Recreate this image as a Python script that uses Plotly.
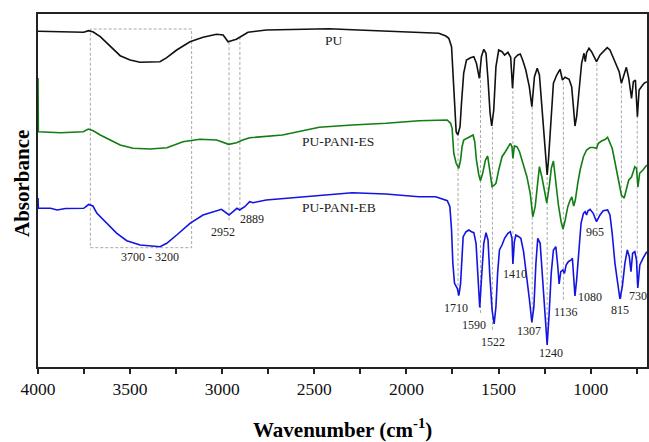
import numpy as np
import plotly.graph_objects as go

# ---------------- data ----------------
pu_wn = [4000, 3878, 3752, 3725, 3700, 3662, 3608, 3554, 3500, 3446, 3338, 3301, 3247, 3175, 3104,
         3031, 2995, 2968, 2950, 2923, 2905, 2860, 2761, 2581, 2418, 2294, 1970, 1824, 1786, 1770,
         1755, 1748, 1737, 1730, 1721, 1709, 1701, 1689, 1674, 1652, 1634, 1620, 1604, 1593, 1580,
         1568, 1557, 1546, 1537, 1526, 1514, 1499, 1481, 1467, 1449, 1434, 1424, 1413, 1395, 1382,
         1369, 1352, 1333, 1319, 1305, 1290, 1278, 1265, 1251, 1242, 1236, 1229, 1221, 1214, 1202,
         1184, 1166, 1153, 1139, 1117, 1103, 1092, 1085, 1076, 1063, 1049, 1036, 1029, 1022, 1009,
         995, 980, 968, 949, 932, 910, 895, 877, 860, 845, 833, 818, 806, 793, 778, 768, 757, 746,
         737, 724, 710, 695]
pu_abs = [3.357, 3.350, 3.347, 3.363, 3.350, 3.303, 3.203, 3.113, 3.070, 3.047, 3.053, 3.093, 3.170,
          3.253, 3.297, 3.327, 3.320, 3.253, 3.263, 3.277, 3.297, 3.347, 3.370, 3.380, 3.383, 3.372,
          3.353, 3.337, 3.310, 3.287, 3.203, 2.970, 2.540, 2.353, 2.320, 2.403, 2.640, 2.940, 3.070,
          3.093, 3.103, 3.037, 2.887, 3.103, 3.177, 3.137, 2.870, 2.540, 2.410, 2.570, 3.003, 3.170,
          3.153, 3.120, 3.147, 3.097, 2.787, 3.087, 3.120, 3.130, 3.070, 2.970, 2.803, 2.603, 2.903,
          2.987, 2.920, 2.603, 2.337, 2.070, 1.920, 2.070, 2.320, 2.503, 2.837, 2.920, 2.977, 2.870,
          2.897, 2.877, 2.803, 2.570, 2.410, 2.503, 2.803, 3.037, 3.137, 3.053, 3.143, 3.187, 3.153,
          3.103, 3.053, 3.120, 3.153, 3.193, 3.170, 3.087, 3.003, 2.953, 2.837, 2.937, 2.997, 2.887,
          2.687, 2.853, 2.870, 2.503, 2.770, 2.803, 2.837, 2.853]

es_wn = [4000, 3998, 3878, 3754, 3727, 3700, 3662, 3608, 3554, 3484, 3392, 3300, 3213, 3121, 3030,
         2965, 2922, 2889, 2851, 2673, 2473, 2294, 2110, 1932, 1779, 1760, 1752, 1743, 1730, 1716,
         1706, 1698, 1689, 1671, 1652, 1638, 1629, 1620, 1607, 1598, 1586, 1571, 1559, 1548, 1535,
         1522, 1514, 1499, 1481, 1463, 1449, 1436, 1427, 1422, 1414, 1400, 1386, 1364, 1346, 1328,
         1314, 1301, 1288, 1278, 1265, 1251, 1238, 1225, 1213, 1202, 1189, 1175, 1160, 1150, 1138,
         1124, 1111, 1102, 1092, 1083, 1070, 1057, 1039, 1022, 1003, 986, 968, 958, 941, 922, 908,
         895, 883, 867, 847, 833, 818, 806, 793, 778, 769, 760, 751, 743, 734, 716, 695]
es_abs = [2.890, 2.353, 2.343, 2.353, 2.380, 2.363, 2.320, 2.270, 2.220, 2.187, 2.180, 2.193, 2.253,
          2.277, 2.270, 2.227, 2.243, 2.270, 2.293, 2.320, 2.397, 2.420, 2.437, 2.463, 2.470, 2.437,
          2.387, 2.137, 2.037, 1.987, 2.070, 2.203, 2.270, 2.287, 2.303, 2.320, 2.253, 2.070, 1.920,
          1.863, 1.937, 2.070, 2.110, 1.987, 1.803, 1.820, 1.837, 1.970, 2.103, 2.153, 2.203, 2.237,
          2.203, 2.087, 2.210, 2.203, 2.153, 2.020, 1.903, 1.737, 1.503, 1.603, 1.870, 2.003, 1.903,
          1.770, 1.640, 1.803, 1.990, 2.060, 1.820, 1.620, 1.450, 1.380, 1.470, 1.603, 1.670, 1.700,
          1.610, 1.670, 1.837, 1.970, 2.103, 2.170, 2.195, 2.195, 2.187, 2.237, 2.260, 2.275, 2.297,
          2.245, 2.187, 2.040, 1.870, 1.720, 1.690, 1.770, 1.870, 1.900, 1.950, 2.003, 1.987, 1.800,
          1.937, 1.970, 2.020]

eb_wn = [4000, 3998, 3932, 3896, 3851, 3752, 3725, 3702, 3680, 3644, 3608, 3572, 3518, 3446, 3338,
         3301, 3247, 3175, 3104, 3031, 3004, 2963, 2932, 2920, 2905, 2878, 2851, 2833, 2761, 2418,
         2294, 2112, 1932, 1841, 1796, 1778, 1764, 1755, 1748, 1739, 1724, 1715, 1706, 1701, 1692,
         1676, 1661, 1647, 1634, 1622, 1611, 1602, 1593, 1580, 1568, 1557, 1548, 1535, 1524, 1514,
         1505, 1495, 1481, 1467, 1449, 1436, 1427, 1422, 1414, 1406, 1391, 1379, 1364, 1346, 1332,
         1319, 1308, 1297, 1287, 1274, 1261, 1247, 1236, 1225, 1214, 1202, 1189, 1178, 1171, 1162,
         1151, 1142, 1133, 1121, 1106, 1099, 1090, 1085, 1076, 1063, 1052, 1039, 1030, 1022, 1015,
         1003, 986, 968, 949, 932, 908, 895, 883, 868, 854, 841, 828, 814, 801, 790, 781, 772, 760,
         751, 744, 733, 716, 695]
eb_abs = [1.690, 1.587, 1.587, 1.570, 1.585, 1.587, 1.625, 1.610, 1.537, 1.470, 1.403, 1.337, 1.263,
          1.220, 1.203, 1.237, 1.320, 1.437, 1.520, 1.560, 1.577, 1.520, 1.563, 1.587, 1.570, 1.603,
          1.653, 1.643, 1.670, 1.720, 1.743, 1.730, 1.703, 1.703, 1.670, 1.663, 1.603, 1.370, 1.037,
          0.837, 0.787, 0.715, 0.837, 1.070, 1.303, 1.353, 1.370, 1.353, 1.343, 1.237, 0.937, 0.595,
          0.870, 1.237, 1.343, 1.270, 0.937, 0.570, 0.430, 0.603, 0.937, 1.170, 1.220, 1.287, 1.337,
          1.353, 1.287, 1.030, 1.253, 1.320, 1.303, 1.287, 1.153, 0.903, 0.670, 0.445, 0.603, 1.037,
          1.287, 1.237, 0.903, 0.470, 0.220, 0.537, 0.937, 1.170, 1.203, 1.003, 0.830, 0.953, 0.970,
          0.937, 1.020, 1.053, 1.070, 1.087, 0.870, 0.710, 0.870, 1.203, 1.437, 1.537, 1.553, 1.520,
          1.560, 1.577, 1.537, 1.453, 1.520, 1.563, 1.570, 1.520, 1.337, 1.037, 0.837, 0.680, 0.803,
          1.037, 1.170, 1.103, 0.953, 1.137, 1.153, 1.070, 0.790, 1.020, 1.087, 1.153]

series_names = ["PU", "PU-PANI-ES", "PU-PANI-EB"]

# peak labels (text, wavenumber of the guide line, label position)
peak_text = ["1710", "1590", "1522", "1410", "1307", "1240", "1136", "965", "815", "730", "2952", "2889"]
peak_guide_wn = [1720, 1598, 1533, 1422, 1317, 1236, 1148, 966, 833, 747, 2963, 2904]
peak_label_wn = [1732, 1632, 1528, 1413, 1334, 1214, 1134, 974, 840, 745, 2997, 2836]
peak_label_abs = [0.59, 0.42, 0.253, 0.93, 0.36, 0.143, 0.553, 1.353, 0.567, 0.713, 1.347, 1.48]
extra_text = ["1080"]
extra_label_wn = [1006]
extra_label_abs = [0.70]
oh_range = [3716, 3166]
oh_text = "3700 - 3200"
oh_label = (3394, 1.097)
name_label_wn = [2394, 2372, 2364]
name_label_abs = [3.27, 2.26, 1.60]

# ---------------- figure ----------------
colors = ["#111111", "#127d12", "#1414e0"]
FONT = "Liberation Serif"

fig = go.Figure()
for wn, ab, c, n in zip([pu_wn, es_wn, eb_wn], [pu_abs, es_abs, eb_abs], colors, series_names):
    fig.add_trace(go.Scatter(x=wn, y=ab, mode="lines", name=n,
                             line=dict(color=c, width=1.6), showlegend=False))

def interp(wn_list, ab_list, w):
    return float(np.interp(w, wn_list[::-1], ab_list[::-1]))

guide_style = dict(color="#a8a8a8", width=1, dash="3px,2px")
shapes = []
for t, gw, ly in zip(peak_text, peak_guide_wn, peak_label_abs):
    top = interp(pu_wn, pu_abs, gw)
    bottom = min(interp(eb_wn, eb_abs, gw), ly + 0.12)
    shapes.append(dict(type="line", xref="x", yref="y", x0=gw, x1=gw, y0=bottom, y1=top,
                       line=guide_style, layer="below"))

# O-H region box
sel = [i for i, w in enumerate(pu_wn) if oh_range[1] <= w <= oh_range[0]]
box_top = max(pu_abs[i] for i in sel) + 0.03
sel_eb = [i for i, w in enumerate(eb_wn) if oh_range[1] <= w <= oh_range[0]]
box_bot = min(eb_abs[i] for i in sel_eb) - 0.01
shapes.append(dict(type="rect", xref="x", yref="y", x0=oh_range[0], x1=oh_range[1],
                   y0=box_bot, y1=box_top, line=guide_style, layer="below"))

annotations = []
for t, x, y in zip(peak_text + extra_text, peak_label_wn + extra_label_wn, peak_label_abs + extra_label_abs):
    annotations.append(dict(x=x, y=y, text=t, showarrow=False, xref="x", yref="y",
                            xanchor="center", yanchor="middle",
                            font=dict(family=FONT, size=12, color="#222")))
annotations.append(dict(x=oh_label[0], y=oh_label[1], text=oh_text, showarrow=False,
                        xanchor="center", yanchor="middle",
                        font=dict(family=FONT, size=12, color="#222")))
for n, x, y in zip(series_names, name_label_wn, name_label_abs):
    annotations.append(dict(x=x, y=y, text=n, showarrow=False, xanchor="center", yanchor="middle",
                            font=dict(family=FONT, size=13.5, color="#222")))
annotations.append(dict(xref="paper", yref="paper", x=-0.0253, y=0.52, text="<b>Absorbance</b>",
                        textangle=-90, showarrow=False, xanchor="center", yanchor="middle",
                        font=dict(family=FONT, size=21, color="#000")))
annotations.append(dict(xref="paper", yref="paper", x=0.4996, y=-0.175,
                        text="<b>Wavenumber (cm<sup>-1</sup>)</b>", showarrow=False,
                        xanchor="center", yanchor="middle",
                        font=dict(family=FONT, size=21, color="#000")))

fig.update_layout(
    width=649, height=442,
    margin=dict(l=38, r=0, t=14, b=75),
    paper_bgcolor="white", plot_bgcolor="white",
    shapes=shapes, annotations=annotations,
    xaxis=dict(range=[4000, 694], tickvals=[4000, 3500, 3000, 2500, 2000, 1500, 1000],
               ticks="outside", ticklen=5, tickwidth=1.5, tickcolor="#222",
               minor=dict(dtick=250, tick0=0, ticks="outside", ticklen=5, tickwidth=1.5, tickcolor="#222"),
               showline=True, linecolor="#222", linewidth=2, mirror=True,
               showgrid=False, zeroline=False,
               tickfont=dict(family=FONT, size=17.5, color="#111")),
    yaxis=dict(range=[0, 3.53], showticklabels=False, ticks="", showgrid=False, zeroline=False,
               showline=True, linecolor="#222", linewidth=2, mirror=True, layer="below traces"),
)

fig.write_html("out.html", config={"displayModeBar": False},
               post_script="document.body.style.margin='0';document.body.style.overflow='hidden';")
